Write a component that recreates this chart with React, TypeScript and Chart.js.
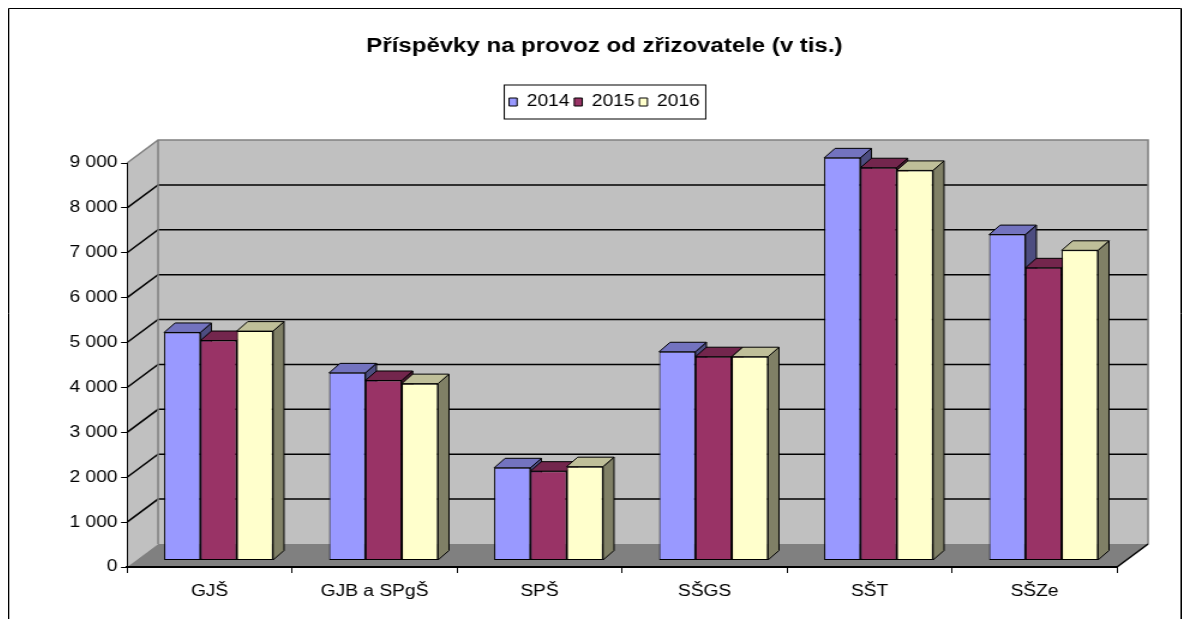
import React, { useEffect, useRef } from 'react';
import { Chart, registerables } from 'chart.js';

Chart.register(...registerables);

// ---- data ----
const categories = ['GJŠ', 'GJB a SPgŠ', 'SPŠ', 'SŠGS', 'SŠT', 'SŠZe'];
const seriesNames = ['2014', '2015', '2016'];
const values2014 = [5080, 4180, 2065, 4650, 8970, 7260];
const values2015 = [4900, 4010, 1990, 4540, 8750, 6520];
const values2016 = [5110, 3940, 2090, 4540, 8690, 6910];
const yTickValues = [0, 1000, 2000, 3000, 4000, 5000, 6000, 7000, 8000, 9000];
const titleText = 'Příspěvky na provoz od zřizovatele (v tis.)';

// ---- styles ----
const frontColors = ['#9999FF', '#993366', '#FFFFCC'];
const topColors = ['#7373BF', '#73264D', '#BFBF99'];
const sideColors = ['#4D4D80', '#4D1A33', '#808066'];
const FONT = "'Liberation Sans', Arial, sans-serif";

const SX = 1.2;
const CANVAS_W = 978;
const CANVAS_H = 611;
const WALL_DX = 31 / SX;
const WALL_DY = -23;
const BAR_DX = 9 / SX;
const BAR_DY = -6.5;
const DEPTH_DX = 11 / SX;
const DEPTH_DY = -9.5;

const fmt = (v: number) => String(v).replace(/\B(?=(\d{3})+(?!\d))/g, ' ');

function poly(ctx: CanvasRenderingContext2D, pts: number[][]) {
  ctx.beginPath();
  ctx.moveTo(pts[0][0], pts[0][1]);
  for (let i = 1; i < pts.length; i++) ctx.lineTo(pts[i][0], pts[i][1]);
  ctx.closePath();
}

const wallsPlugin = {
  id: 'walls3d',
  beforeDraw(chart: any) {
    const { ctx, chartArea: ca } = chart;
    const y = chart.scales.y;
    const L = ca.left;
    const R = ca.right;
    const y0 = y.getPixelForValue(yTickValues[0]);
    const yTop = y.getPixelForValue(yTickValues[yTickValues.length - 1]);
    ctx.save();
    ctx.fillStyle = '#FFFFFF';
    ctx.fillRect(0, 0, chart.width, chart.height);
    // back wall
    ctx.fillStyle = '#C0C0C0';
    ctx.fillRect(L + WALL_DX, yTop + WALL_DY, R - L, y0 - yTop);
    // left wall
    poly(ctx, [[L, y0], [L + WALL_DX, y0 + WALL_DY], [L + WALL_DX, yTop + WALL_DY], [L, yTop]]);
    ctx.fill();
    // floor
    ctx.fillStyle = '#808080';
    poly(ctx, [[L, y0], [R, y0], [R + WALL_DX, y0 + WALL_DY], [L + WALL_DX, y0 + WALL_DY]]);
    ctx.fill();
    // gridlines
    ctx.strokeStyle = '#000000';
    ctx.lineWidth = 1.5;
    for (let k = 1; k < yTickValues.length - 1; k++) {
      const py = y.getPixelForValue(yTickValues[k]);
      ctx.beginPath();
      ctx.moveTo(L, py);
      ctx.lineTo(L + WALL_DX, py + WALL_DY);
      ctx.lineTo(R + WALL_DX, py + WALL_DY);
      ctx.stroke();
    }
    // wall edges
    ctx.strokeStyle = '#808080';
    ctx.beginPath();
    ctx.moveTo(L, yTop);
    ctx.lineTo(L + WALL_DX, yTop + WALL_DY);
    ctx.lineTo(R + WALL_DX, yTop + WALL_DY);
    ctx.lineTo(R + WALL_DX, y0 + WALL_DY);
    ctx.moveTo(L + WALL_DX, yTop + WALL_DY);
    ctx.lineTo(L + WALL_DX, y0 + WALL_DY);
    ctx.stroke();
    // floor right edge
    ctx.strokeStyle = '#000000';
    ctx.beginPath();
    ctx.moveTo(R, y0);
    ctx.lineTo(R + WALL_DX, y0 + WALL_DY);
    ctx.stroke();
    ctx.restore();
  },
};

const barsPlugin = {
  id: 'bars3d',
  beforeDatasetsDraw(chart: any) {
    const ctx = chart.ctx;
    ctx.save();
    ctx.translate(BAR_DX, BAR_DY);
    const metas = chart.getSortedVisibleDatasetMetas();
    ctx.lineWidth = 1;
    ctx.strokeStyle = '#000000';
    for (let i = 0; i < categories.length; i++) {
      for (let d = 0; d < metas.length; d++) {
        const el = metas[d].data[i];
        if (!el) continue;
        const { x, y, base, width } = el;
        const l = x - width / 2;
        const r = x + width / 2;
        ctx.fillStyle = sideColors[d];
        poly(ctx, [[r, y], [r + DEPTH_DX, y + DEPTH_DY], [r + DEPTH_DX, base + DEPTH_DY], [r, base]]);
        ctx.fill();
        ctx.stroke();
        ctx.fillStyle = topColors[d];
        poly(ctx, [[l, y], [l + DEPTH_DX, y + DEPTH_DY], [r + DEPTH_DX, y + DEPTH_DY], [r, y]]);
        ctx.fill();
        ctx.stroke();
      }
    }
  },
  afterDatasetsDraw(chart: any) {
    chart.ctx.restore();
  },
};

const framePlugin = {
  id: 'frame',
  afterDraw(chart: any) {
    const ctx = chart.ctx;
    ctx.save();
    ctx.strokeStyle = '#000000';
    ctx.lineWidth = 1;
    // legend border
    const hb = chart.legend && chart.legend.legendHitBoxes;
    if (hb && hb.length) {
      const first = hb[0];
      const last = hb[hb.length - 1];
      const cy = first.top + first.height / 2;
      const lx = first.left - 4;
      const rx = last.left + last.width + 5;
      ctx.strokeRect(lx, cy - 17, rx - lx, 34);
    }
    // outer frame
    ctx.beginPath();
    ctx.moveTo(0.5, chart.height);
    ctx.lineTo(0.5, 0.5);
    ctx.lineTo(chart.width - 0.5, 0.5);
    ctx.lineTo(chart.width - 0.5, chart.height);
    ctx.stroke();
    ctx.restore();
  },
};

export default function App() {
  const ref = useRef<HTMLCanvasElement>(null);

  useEffect(() => {
    const seriesValues = [values2014, values2015, values2016];
    const chart = new Chart(ref.current as HTMLCanvasElement, {
      type: 'bar',
      data: {
        labels: categories,
        datasets: seriesNames.map((name, d) => ({
          label: name,
          data: seriesValues[d],
          backgroundColor: frontColors[d],
          borderColor: '#000000',
          borderWidth: 1,
          borderSkipped: false,
          categoryPercentage: 0.66,
          barPercentage: 1,
        })),
      },
      options: {
        responsive: false,
        animation: false,
        events: [],
        layout: { padding: { left: 16, right: 0, top: 0, bottom: 0 } },
        plugins: {
          title: {
            display: true,
            text: titleText,
            color: '#000000',
            font: { family: FONT, size: 20, weight: 'bold' },
            padding: { top: 26, bottom: 32 },
          },
          legend: {
            display: true,
            position: 'top',
            labels: {
              color: '#000000',
              font: { family: FONT, size: 16 },
              boxWidth: 6.7,
              boxHeight: 8,
              padding: 4,
            },
          },
          subtitle: {
            display: true,
            text: ' ',
            weight: 500,
            font: { size: 1, lineHeight: 1 },
            padding: { top: 42, bottom: 0 },
          },
          tooltip: { enabled: false },
        },
        scales: {
          x: {
            grid: { display: true, drawOnChartArea: false, drawTicks: true, tickLength: 6, color: '#000000', offset: true },
            border: { display: true, color: '#000000', width: 2 },
            ticks: { color: '#000000', font: { family: FONT, size: 16 }, padding: 9, maxRotation: 0 },
            afterFit: (s: any) => { s.height = 52; },
          },
          y: {
            min: yTickValues[0],
            max: yTickValues[yTickValues.length - 1],
            grid: { display: true, drawOnChartArea: false, drawTicks: true, tickLength: 5, color: '#000000' },
            border: { display: true, color: '#000000', width: 1 },
            ticks: { color: '#000000', font: { family: FONT, size: 16 }, padding: 3, callback: (v: any) => fmt(Number(v)) },
            afterBuildTicks: (s: any) => { s.ticks = yTickValues.map((v) => ({ value: v })); },
            afterFit: (s: any) => { s.width = 83.2; },
          },
          ySpacer: {
            position: 'right',
            display: true,
            min: 0,
            max: 1,
            grid: { display: false, drawTicks: false },
            border: { display: false },
            ticks: { display: false },
            afterFit: (s: any) => { s.width = 53.8; },
          },
        },
      } as any,
      plugins: [wallsPlugin, barsPlugin, framePlugin],
    });
    return () => chart.destroy();
  }, []);

  return (
    <div style={{ position: 'fixed', left: 8, top: 8, width: 1174, height: CANVAS_H, overflow: 'hidden', background: '#fff' }}>
      <canvas
        ref={ref}
        width={CANVAS_W}
        height={CANVAS_H}
        style={{ display: 'block', width: CANVAS_W, height: CANVAS_H, transform: `scaleX(${SX})`, transformOrigin: '0 0' }}
      />
    </div>
  );
}
